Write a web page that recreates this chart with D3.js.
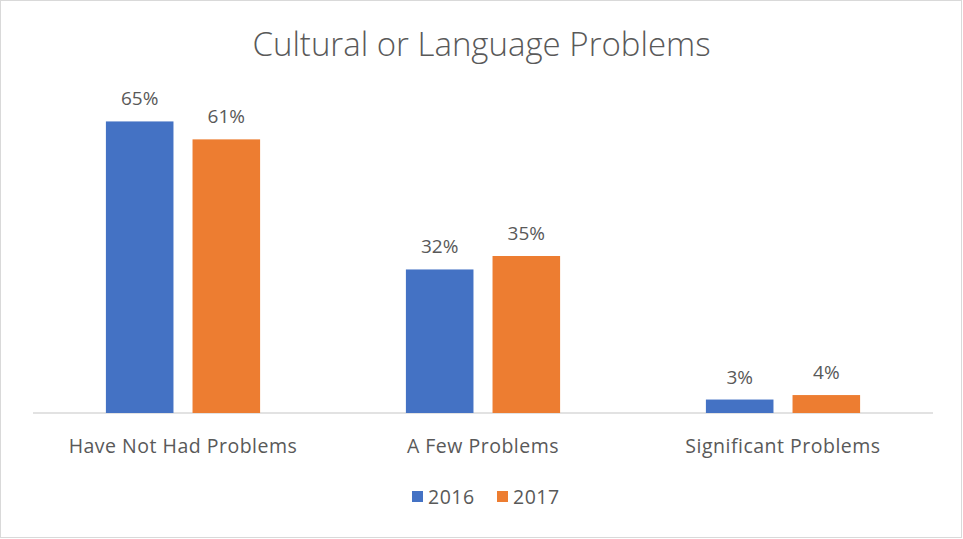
<!DOCTYPE html>
<html>
<head>
<meta charset="utf-8">
<script src="https://cdn.jsdelivr.net/npm/d3@7"></script>
<style>
  body { margin: 0; background: #fff; }
  text { font-family: "Open Sans", "Noto Sans", sans-serif; fill: #595959; }
</style>
</head>
<body>
<svg></svg>
<script>
'use strict'

const width = 963
const height = 539

const categories = ['Have Not Had Problems', 'A Few Problems', 'Significant Problems']
const seriesNames = ['2016', '2017']
const values2016 = [65, 32, 3]
const values2017 = [61, 35, 4]
const colors = ['#4472C4', '#ED7D31']

const margin = { top: 99, right: 30, bottom: 126, left: 33 }

const svg = d3.select('svg').attr('width', width).attr('height', height)

svg.append('rect')
    .attr('x', 0.5).attr('y', 0.5)
    .attr('width', width - 2).attr('height', height - 2)
    .attr('fill', '#fff')
    .attr('stroke', '#D9D9D9')

const x = d3.scaleBand()
    .domain(categories)
    .range([margin.left, width - margin.right])

const y = d3.scaleLinear()
    .domain([0, 70])
    .range([height - margin.bottom, margin.top])

const inner = d3.scaleBand()
    .domain(seriesNames)
    .range([x.bandwidth() * 0.243, x.bandwidth() * 0.757])
    .paddingInner(0.22)

const rows = categories.map((c, i) => ({
    category: c,
    values: [values2016[i], values2017[i]].map((v, j) => ({ series: seriesNames[j], value: v, color: colors[j] }))
}))

// title
svg.append('text')
    .attr('x', width / 2)
    .attr('y', 56)
    .attr('text-anchor', 'middle')
    .style('font-size', '33px')
    .style('font-weight', 300)
    .text('Cultural or Language Problems')

// baseline
svg.append('line')
    .attr('x1', margin.left).attr('x2', width - margin.right)
    .attr('y1', y(0)).attr('y2', y(0))
    .attr('stroke', '#D9D9D9')
    .attr('stroke-width', 1.5)

const group = svg.append('g').selectAll('g')
    .data(rows)
    .join('g')
    .attr('transform', d => `translate(${x(d.category)},0)`)

group.selectAll('rect')
    .data(d => d.values)
    .join('rect')
    .attr('x', d => inner(d.series))
    .attr('y', d => y(d.value))
    .attr('width', inner.bandwidth())
    .attr('height', d => y(0) - y(d.value))
    .attr('fill', d => d.color)

group.selectAll('text.label')
    .data(d => d.values)
    .join('text')
    .attr('class', 'label')
    .attr('x', d => inner(d.series) + inner.bandwidth() / 2)
    .attr('y', d => y(d.value) - 16)
    .attr('text-anchor', 'middle')
    .style('font-size', '19px')
    .text(d => d.value + '%')

// category axis labels
svg.append('g').selectAll('text')
    .data(categories)
    .join('text')
    .attr('x', d => x(d) + x.bandwidth() / 2)
    .attr('y', 453)
    .attr('text-anchor', 'middle')
    .style('font-size', '19.5px')
    .style('letter-spacing', '0.5px')
    .text(d => d)

// legend
const legend = svg.append('g').attr('transform', 'translate(412,497)')
const legendX = [0, 85]
const item = legend.selectAll('g')
    .data(seriesNames)
    .join('g')
    .attr('transform', (d, i) => `translate(${legendX[i]},0)`)

item.append('rect')
    .attr('x', 0).attr('y', -6)
    .attr('width', 11).attr('height', 11)
    .attr('fill', (d, i) => colors[i])

item.append('text')
    .attr('x', 16).attr('y', 7)
    .style('font-size', '19.5px')
    .style('letter-spacing', '0.5px')
    .text(d => d)
</script>
</body>
</html>
